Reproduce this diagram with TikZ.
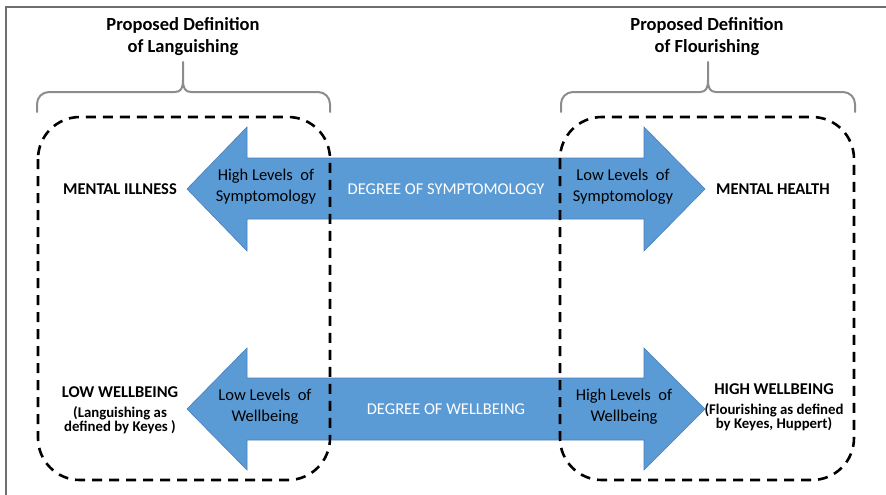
\documentclass[tikz,border=0pt]{standalone}
\usepackage{fontspec}
\setmainfont{Carlito}
\definecolor{arrowblue}{HTML}{5B9BD5}
\definecolor{arrowedge}{HTML}{4A7EBB}
\definecolor{bracketgray}{HTML}{8C8C8C}
\definecolor{framegray}{HTML}{6E6E6E}
\begin{document}
\begin{tikzpicture}[x=1pt,y=-1pt,
  dashbox/.style={draw=black,line width=2.6pt,dash pattern=on 10pt off 7pt,rounded corners=42pt},
  bracketline/.style={draw=bracketgray,line width=2pt,line cap=round},
  bigarrow/.style={fill=arrowblue,draw=arrowedge,line width=0.6pt},
  title/.style={font=\fontsize{18.5}{22}\selectfont\bfseries,align=center},
  pole/.style={font=\fontsize{16.5}{19}\selectfont\bfseries,align=center},
  sublabel/.style={font=\fontsize{14.8}{17.5}\selectfont\bfseries},
  level/.style={font=\fontsize{16.5}{21}\selectfont,align=center},
  degree/.style={font=\fontsize{16.5}{20}\selectfont,text=white}
]
\useasboundingbox (0,0) rectangle (886,495);
% frame
\draw[framegray,line width=1.4pt] (886,7) -- (6,7) -- (6,495);

% arrows
\coordinate (a1) at (187,189);
\draw[bigarrow] (a1) -- (247,127) -- (247,158) -- (644,158) -- (644,127) -- (705,189)
  -- (644,251) -- (644,219) -- (247,219) -- (247,251) -- cycle;
\coordinate (a2) at (187,409);
\draw[bigarrow] (a2) -- (247,348) -- (247,378) -- (644,378) -- (644,348) -- (705,409)
  -- (644,470) -- (644,440) -- (247,440) -- (247,470) -- cycle;

% dashed boxes
\draw[dashbox] (38,117) rectangle (330,480);
\draw[dashbox] (560,117) rectangle (854,480);

% brackets
\coordinate (lb) at (183,62);
\draw[bracketline,rounded corners=12pt] (37,112) |- (175,92);
\draw[bracketline] (175,92) .. controls (181,92) and (183,88) .. (183,80) -- (lb);
\draw[bracketline,rounded corners=12pt] (330,112) |- (191,92);
\draw[bracketline] (191,92) .. controls (185,92) and (183,88) .. (183,80);
\coordinate (rb) at (708,62);
\draw[bracketline,rounded corners=12pt] (561,112) |- (700,92);
\draw[bracketline] (700,92) .. controls (706,92) and (708,88) .. (708,80) -- (rb);
\draw[bracketline,rounded corners=12pt] (855,112) |- (716,92);
\draw[bracketline] (716,92) .. controls (710,92) and (708,88) .. (708,80);

% titles
\node[title] (tl) at (183,37) {Proposed Definition\\of Languishing};
\node[title] (tr) at (707,37) {Proposed Definition\\of Flourishing};

% top row
\node[pole] (mi) at (120,189) {MENTAL ILLNESS};
\node[level] (hls) at (266,187) {High Levels\ \ of\\Symptomology};
\node[degree] (ds) at (446,189) {DEGREE OF SYMPTOMOLOGY};
\node[level] (lls) at (623,187) {Low Levels\ \ of\\Symptomology};
\node[pole] (mh) at (773,189) {MENTAL HEALTH};

% bottom row
\node[pole,anchor=center] (lw) at (120,392) {LOW WELLBEING};
\node[sublabel,align=center] (lwsub) at (120,420) {(Languishing as\\[-3pt]defined by Keyes )};
\node[level] (llw) at (265,407) {Low Levels\ \ of\\Wellbeing};
\node[degree] (dw) at (446,409) {DEGREE OF WELLBEING};
\node[level] (hlw) at (624,407) {High Levels\ \ of\\Wellbeing};
\node[pole] (hw) at (774,389) {HIGH WELLBEING};
\node[sublabel,align=center] (hwsub) at (774,417) {(Flourishing as defined\\[-3pt]by Keyes, Huppert)};
\end{tikzpicture}
\end{document}
